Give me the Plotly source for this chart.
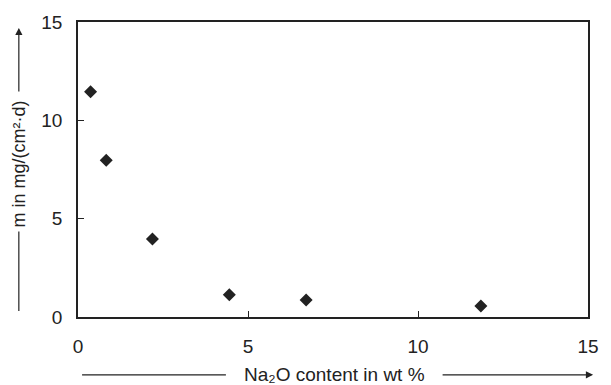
import plotly.graph_objects as go

# Mass loss rate versus Na2O content of the glass
na2o_wt = [0.37, 0.83, 2.19, 4.45, 6.71, 11.85]
mass_loss = [11.45, 7.97, 3.97, 1.13, 0.86, 0.56]

tick_vals = [0, 5, 10, 15]
tick_text = ["0", "5", "10", "15"]

FONT = "Liberation Sans, Arial, Helvetica, sans-serif"
INK = "#222222"
FS = 19

fig = go.Figure()
fig.add_trace(go.Scatter(
    x=na2o_wt, y=mass_loss, mode="markers",
    marker=dict(symbol="diamond", size=10, color=INK),
    showlegend=False, hoverinfo="x+y",
))

axis_common = dict(
    range=[0, 15], tickvals=tick_vals, ticktext=tick_text,
    showgrid=False, zeroline=False,
    showline=True, mirror=True, linecolor=INK, linewidth=1.5,
    ticks="inside", ticklen=6, tickwidth=1.2, tickcolor=INK,
    tickfont=dict(family=FONT, size=FS, color=INK),
)
fig.update_xaxes(**axis_common, ticklabelstandoff=11)
fig.update_yaxes(**axis_common, ticklabelstandoff=10)

line_style = dict(color=INK, width=1.2)
X_YT = -0.116  # horizontal position of the y-axis title column
Y_XT = -0.196  # vertical position of the x-axis title row

# y-axis title with leading line and upward arrow
fig.add_annotation(
    text="m in mg/(cm²·d)", textangle=-90,
    xref="paper", yref="paper", x=X_YT, y=0.52,
    xanchor="center", yanchor="middle",
    showarrow=False, font=dict(family=FONT, size=18, color=INK),
)
fig.add_shape(type="line", xref="paper", yref="paper",
              x0=X_YT, x1=X_YT, y0=0.02, y1=0.29, line=line_style)
fig.add_annotation(
    text="", xref="paper", yref="paper", x=X_YT, y=0.98,
    ax=0, ay=65, showarrow=True, arrowhead=2, arrowsize=1.2,
    arrowwidth=1.2, arrowcolor=INK,
)

# x-axis title with leading line and rightward arrow
fig.add_annotation(
    text="Na₂O content in wt %",
    xref="paper", yref="paper", x=0.502, y=Y_XT,
    xanchor="center", yanchor="middle",
    showarrow=False, font=dict(family=FONT, size=FS, color=INK),
)
fig.add_shape(type="line", xref="paper", yref="paper",
              x0=0.008, x1=0.29, y0=Y_XT, y1=Y_XT, line=line_style)
fig.add_annotation(
    text="", xref="paper", yref="paper", x=1.01, y=Y_XT,
    ax=-152, ay=0, showarrow=True, arrowhead=2, arrowsize=1.2,
    arrowwidth=1.2, arrowcolor=INK,
)

fig.update_layout(
    width=611, height=385,
    margin=dict(l=78, r=17, t=22, b=68),
    plot_bgcolor="white", paper_bgcolor="white",
)

fig.write_html("out.html")
